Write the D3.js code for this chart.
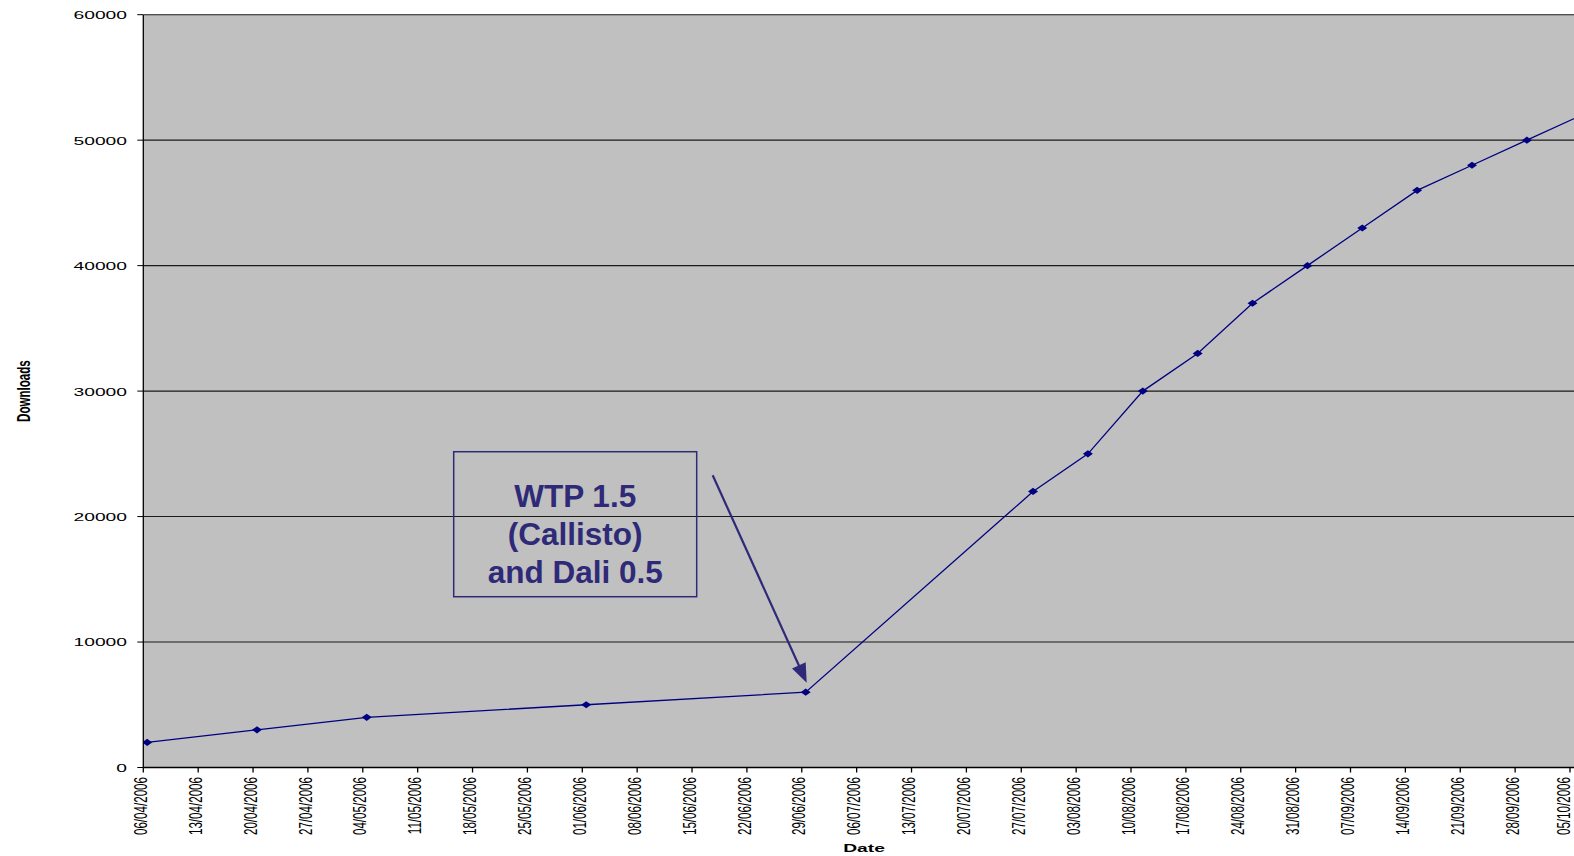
<!DOCTYPE html>
<html>
<head>
<meta charset="utf-8">
<script src="https://cdn.jsdelivr.net/npm/d3@7"></script>
<style>
  html, body { margin: 0; padding: 0; background: #fff; overflow: hidden; }
  svg { display: block; }
  text { font-family: "Liberation Sans", Arial, sans-serif; }
</style>
</head>
<body>
<svg id="chart" width="1574" height="856"></svg>
<script>
// ---- data ----
const dates = ["2006-04-06","2006-04-20","2006-05-04","2006-06-01","2006-06-29",
               "2006-07-28","2006-08-04","2006-08-11","2006-08-18","2006-08-25",
               "2006-09-01","2006-09-08","2006-09-15","2006-09-22","2006-09-29",
               "2006-10-06"];
const downloads = [2000, 3000, 4000, 5000, 6000,
                   22000, 25000, 30000, 33000, 37000,
                   40000, 43000, 46000, 48000, 50000,
                   52000];
const yTicks = [0, 10000, 20000, 30000, 40000, 50000, 60000];
const xStart = "2006-04-06";
const xEnd = "2006-10-05";
const annotationLines = ["WTP 1.5", "(Callisto)", "and Dali 0.5"];
const annotationIndex = 4; // arrow points at 29/06/2006
const xTitle = "Date";
const yTitle = "Downloads";

// ---- layout ----
const W = 1574, H = 856;
const pLeft = 143.3, pRight = 1570, pTop = 14.7, pBottom = 767.5;
const SX = 1.66; // horizontal stretch of axis text
const svg = d3.select("#chart");

const parse = d3.utcParse("%Y-%m-%d");
const fmt = d3.utcFormat("%d/%m/%Y");
const x = d3.scaleUtc().domain([parse(xStart), parse(xEnd)]).range([pLeft, pRight]);
const y = d3.scaleLinear().domain([0, 60000]).range([pBottom, pTop]);

// points sit in the middle of their day
const pts = dates.map((d, i) => ({ t: d3.utcHour.offset(parse(d), 12), v: downloads[i] }));

// clip
svg.append("defs").append("clipPath").attr("id", "plotclip")
  .append("rect").attr("x", pLeft).attr("y", pTop - 2).attr("width", W - pLeft).attr("height", pBottom - pTop + 4);

// plot background
svg.append("rect").attr("x", pLeft).attr("y", pTop).attr("width", W - pLeft + 5).attr("height", pBottom - pTop)
  .attr("fill", "#c0c0c0");

// gridlines
const g = svg.append("g").attr("clip-path", "url(#plotclip)");
g.selectAll("line.grid").data(yTicks.filter(t => t > 0)).join("line")
  .attr("class", "grid")
  .attr("x1", pLeft).attr("x2", W + 5)
  .attr("y1", d => y(d)).attr("y2", d => y(d))
  .attr("stroke", "#1a1a1a").attr("stroke-width", 1.1);

// axes lines
svg.append("line").attr("x1", pLeft).attr("x2", pLeft).attr("y1", pTop).attr("y2", pBottom)
  .attr("stroke", "#000").attr("stroke-width", 1.3);
svg.append("line").attr("x1", pLeft).attr("x2", W + 5).attr("y1", pBottom).attr("y2", pBottom)
  .attr("stroke", "#000").attr("stroke-width", 1.5);

// y ticks
const yAxis = svg.append("g");
yAxis.selectAll("line").data(yTicks).join("line")
  .attr("x1", pLeft - 6).attr("x2", pLeft)
  .attr("y1", d => y(d)).attr("y2", d => y(d))
  .attr("stroke", "#000").attr("stroke-width", 1);
yAxis.selectAll("text").data(yTicks).join("text")
  .attr("transform", d => `translate(127,${y(d) + 4.4}) scale(${SX},1)`)
  .attr("text-anchor", "end")
  .attr("font-size", 11.6)
  .attr("fill", "#000")
  .text(d => d);

// x ticks (weekly)
const xTickVals = d3.utcDay.range(parse(xStart), d3.utcDay.offset(parse(xEnd), 1), 7);
const xAxis = svg.append("g");
xAxis.selectAll("line").data(xTickVals).join("line")
  .attr("x1", d => x(d)).attr("x2", d => x(d))
  .attr("y1", pBottom).attr("y2", pBottom + 5)
  .attr("stroke", "#000").attr("stroke-width", 1.3);
xAxis.selectAll("text").data(xTickVals).join("text")
  .attr("transform", d => `translate(${Math.min(x(d) + 3.6, W - 4.5)},777) scale(1.62,1) rotate(-90)`)
  .attr("text-anchor", "end")
  .attr("font-size", 11.6)
  .attr("fill", "#000")
  .text(d => fmt(d));

// axis titles
svg.append("text")
  .attr("transform", `translate(864,851.7) scale(${SX},1)`)
  .attr("text-anchor", "middle").attr("font-weight", "bold").attr("font-size", 11.6)
  .text(xTitle);
svg.append("text")
  .attr("transform", `translate(30,${(pTop + pBottom) / 2}) scale(${SX},1) rotate(-90)`)
  .attr("text-anchor", "middle").attr("font-weight", "bold").attr("font-size", 11.6)
  .text(yTitle);

// series line
const line = d3.line().x(d => x(d.t)).y(d => y(d.v));
g.append("path").datum(pts)
  .attr("d", line)
  .attr("fill", "none")
  .attr("stroke", "#000080")
  .attr("stroke-width", 1.3);

// markers (diamonds)
g.selectAll("path.mk").data(pts).join("path")
  .attr("class", "mk")
  .attr("d", d => {
    const cx = x(d.t), cy = y(d.v);
    return `M${cx - 5},${cy} L${cx},${cy - 3.6} L${cx + 5},${cy} L${cx},${cy + 3.6} Z`;
  })
  .attr("fill", "#000080");

// annotation
const anc = pts[annotationIndex];
const ax = x(anc.t), ay = y(anc.v);
const annColor = "#2e2a78";
const box = { x0: ax - 352, x1: ax - 109, y0: ay - 240.5, y1: ay - 95.5 };
svg.append("rect")
  .attr("x", box.x0).attr("y", box.y0)
  .attr("width", box.x1 - box.x0).attr("height", box.y1 - box.y0)
  .attr("fill", "none").attr("stroke", annColor).attr("stroke-width", 1.5);
const cxBox = (box.x0 + box.x1) / 2;
svg.append("g").selectAll("text").data(annotationLines).join("text")
  .attr("x", cxBox)
  .attr("y", (d, i) => box.y0 + 55 + i * 38.3)
  .attr("text-anchor", "middle")
  .attr("font-weight", "bold")
  .attr("font-size", 31.5)
  .attr("fill", annColor)
  .text(d => d);

// arrow
const tip = [ax + 1, ay - 9.5];
const start = [ax - 93, ay - 217];
const dx = tip[0] - start[0], dy = tip[1] - start[1];
const len = Math.hypot(dx, dy);
const ux = dx / len, uy = dy / len;
const headLen = 19, headHalf = 7.5;
const base = [tip[0] - ux * headLen, tip[1] - uy * headLen];
svg.append("line")
  .attr("x1", start[0]).attr("y1", start[1])
  .attr("x2", base[0] + ux * 2).attr("y2", base[1] + uy * 2)
  .attr("stroke", annColor).attr("stroke-width", 2.2);
svg.append("path")
  .attr("d", `M${tip[0]},${tip[1]} L${base[0] - uy * headHalf},${base[1] + ux * headHalf} L${base[0] + uy * headHalf},${base[1] - ux * headHalf} Z`)
  .attr("fill", annColor);
</script>
</body>
</html>
